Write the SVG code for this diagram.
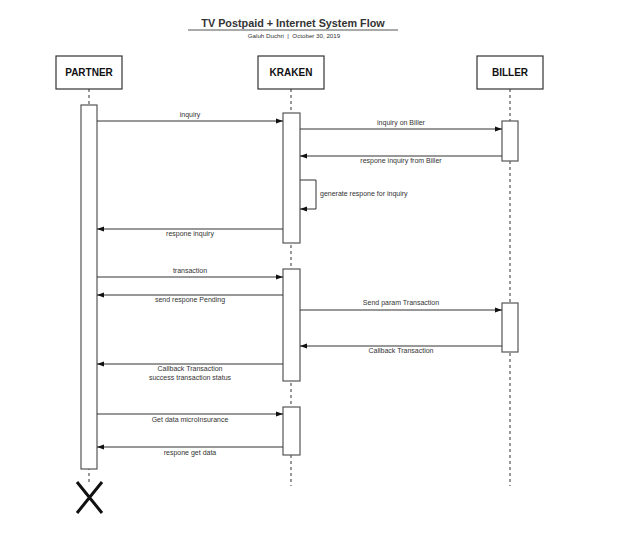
<svg xmlns="http://www.w3.org/2000/svg" width="620" height="536" viewBox="0 0 620 536">
<style>
text{font-family:"Liberation Sans",Arial,sans-serif;fill:#333}
.hdr{fill:#fff;stroke:#333;stroke-width:1.2}
.hl{font-size:10px;font-weight:bold;fill:#111;text-anchor:middle}
.life{stroke:#555;stroke-width:1.2;stroke-dasharray:3,3;fill:none}
.act{fill:#fff;stroke:#555;stroke-width:1.2}
.msg{stroke:#333;stroke-width:1;fill:none;marker-end:url(#ah)}
.lbl{font-size:7px;text-anchor:middle;fill:#333}
</style>
<defs>
<marker id="ah" viewBox="0 0 10 10" refX="10" refY="5" markerWidth="7" markerHeight="7" markerUnits="userSpaceOnUse" orient="auto">
<path d="M0,1.5 L10,5 L0,8.5 Z" fill="#111"/>
</marker>
</defs>
<rect width="620" height="536" fill="#fff"/>
<g id="title">
<text x="293" y="27" font-size="10.8" font-weight="bold" text-anchor="middle" fill="#333">TV Postpaid + Internet System Flow</text>
<line x1="188" y1="30" x2="398" y2="30" stroke="#555" stroke-width="1"/>
<text x="294" y="37.5" font-size="6.2" text-anchor="middle" fill="#666" style="white-space:pre" xml:space="preserve">Galuh Duchri  |  October 30, 2019</text>
</g>
<g id="lifelines">
<line class="life" x1="89" y1="89" x2="89" y2="482"/>
<line class="life" x1="291" y1="89" x2="291" y2="486"/>
<line class="life" x1="510" y1="89" x2="510" y2="486"/>
</g>
<g id="partner">
<rect class="hdr" x="56" y="56" width="66" height="33"/>
<text class="hl" x="89" y="76">PARTNER</text>
<rect class="act" x="81" y="105" width="16" height="364"/>
<path d="M77,482 L102,513 M102,482 L77,513" stroke="#111" stroke-width="3" fill="none"/>
</g>
<g id="kraken">
<rect class="hdr" x="258" y="56" width="66" height="33"/>
<text class="hl" x="291" y="76">KRAKEN</text>
<rect class="act" x="283" y="113" width="17" height="130"/>
<rect class="act" x="283" y="269" width="17" height="112"/>
<rect class="act" x="283" y="407" width="17" height="48"/>
</g>
<g id="biller">
<rect class="hdr" x="477" y="56" width="66" height="33"/>
<text class="hl" x="510" y="76">BILLER</text>
<rect class="act" x="502" y="121" width="16" height="40"/>
<rect class="act" x="502" y="303" width="16" height="49"/>
</g>
<g id="connectors">
<line class="msg" x1="97" y1="121" x2="283" y2="121"/>
<text class="lbl" x="190" y="117">inquiry</text>
<line class="msg" x1="300" y1="129" x2="502" y2="129"/>
<text class="lbl" x="401" y="125">inquiry on Biller</text>
<line class="msg" x1="502" y1="156" x2="300" y2="156"/>
<text class="lbl" x="401" y="163">respone inquiry from Biller</text>
<path class="msg" d="M300,180 H316 V209 H300"/>
<text class="lbl" x="320" y="196" style="text-anchor:start">generate respone for inquiry</text>
<line class="msg" x1="283" y1="229" x2="97" y2="229"/>
<text class="lbl" x="190" y="236">respone inquiry</text>
<line class="msg" x1="97" y1="277" x2="283" y2="277"/>
<text class="lbl" x="190" y="273">transaction</text>
<line class="msg" x1="283" y1="295" x2="97" y2="295"/>
<text class="lbl" x="190" y="302">send respone Pending</text>
<line class="msg" x1="300" y1="310" x2="502" y2="310"/>
<text class="lbl" x="401" y="305">Send param Transaction</text>
<line class="msg" x1="502" y1="346" x2="300" y2="346"/>
<text class="lbl" x="401" y="353">Callback Transaction</text>
<line class="msg" x1="283" y1="364" x2="97" y2="364"/>
<text class="lbl" x="190" y="371">Callback Transaction</text>
<text class="lbl" x="190" y="380">success transaction status</text>
<line class="msg" x1="97" y1="414" x2="283" y2="414"/>
<text class="lbl" x="190" y="422">Get data microInsurance</text>
<line class="msg" x1="283" y1="447" x2="97" y2="447"/>
<text class="lbl" x="190" y="455">respone get data</text>
</g>
</svg>
